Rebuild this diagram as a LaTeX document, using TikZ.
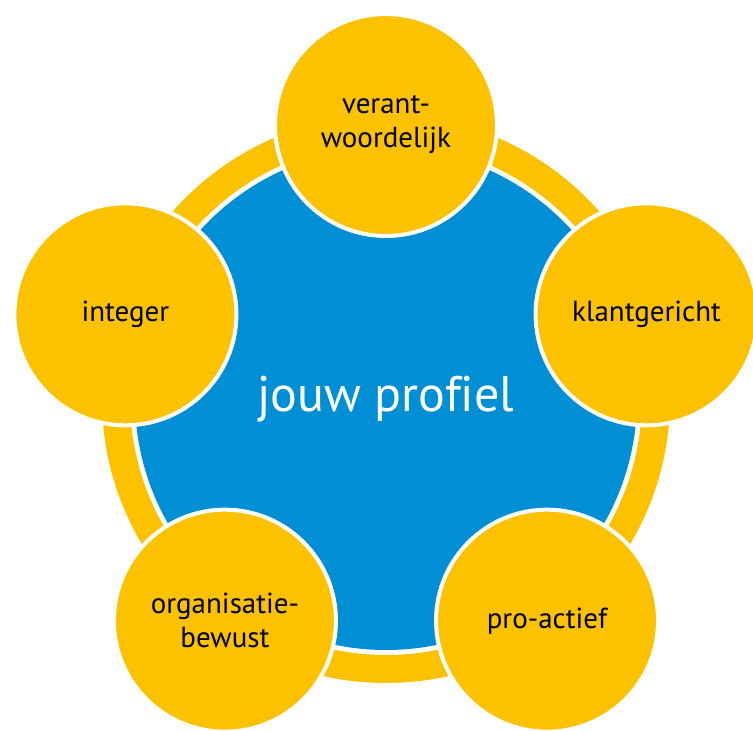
\documentclass[tikz,border=0pt]{standalone}
\usepackage{fontspec}
\setmainfont[Ligatures=CommonOff]{PT Sans}
\definecolor{geel}{RGB}{252,194,0}
\definecolor{blauw}{RGB}{0,143,213}
\begin{document}
\begin{tikzpicture}[x=1pt,y=1pt,bol/.style={circle,fill=geel,draw=white,line width=4pt,minimum size=222pt,inner sep=0pt,align=center,font=\fontsize{29}{34}\selectfont}]
                     \useasboundingbox(-386,399)rectangle(367,-332);
                     \clip(-386,399)rectangle(367,-332);
                     \draw[geel,line width=28pt](0,0)circle[radius=270pt];
                     \node[circle,fill=blauw,minimum size=502pt,inner sep=0pt,text=white,font=\fontsize{50}{58}\selectfont](profiel)at(0,0){jouw profiel};
                     \node[bol](verant) at(90:274) {verant-\\woordelijk};
                     \node[bol](klant)  at(18:274) {klantgericht};
                     \node[bol](proact) at(-54:274){pro-actief};
                     \node[bol](organ)  at(234:274){organisatie-\\bewust};
                     \node[bol](integ)  at(162:274){integer};
                 \end{tikzpicture}
\end{document}
